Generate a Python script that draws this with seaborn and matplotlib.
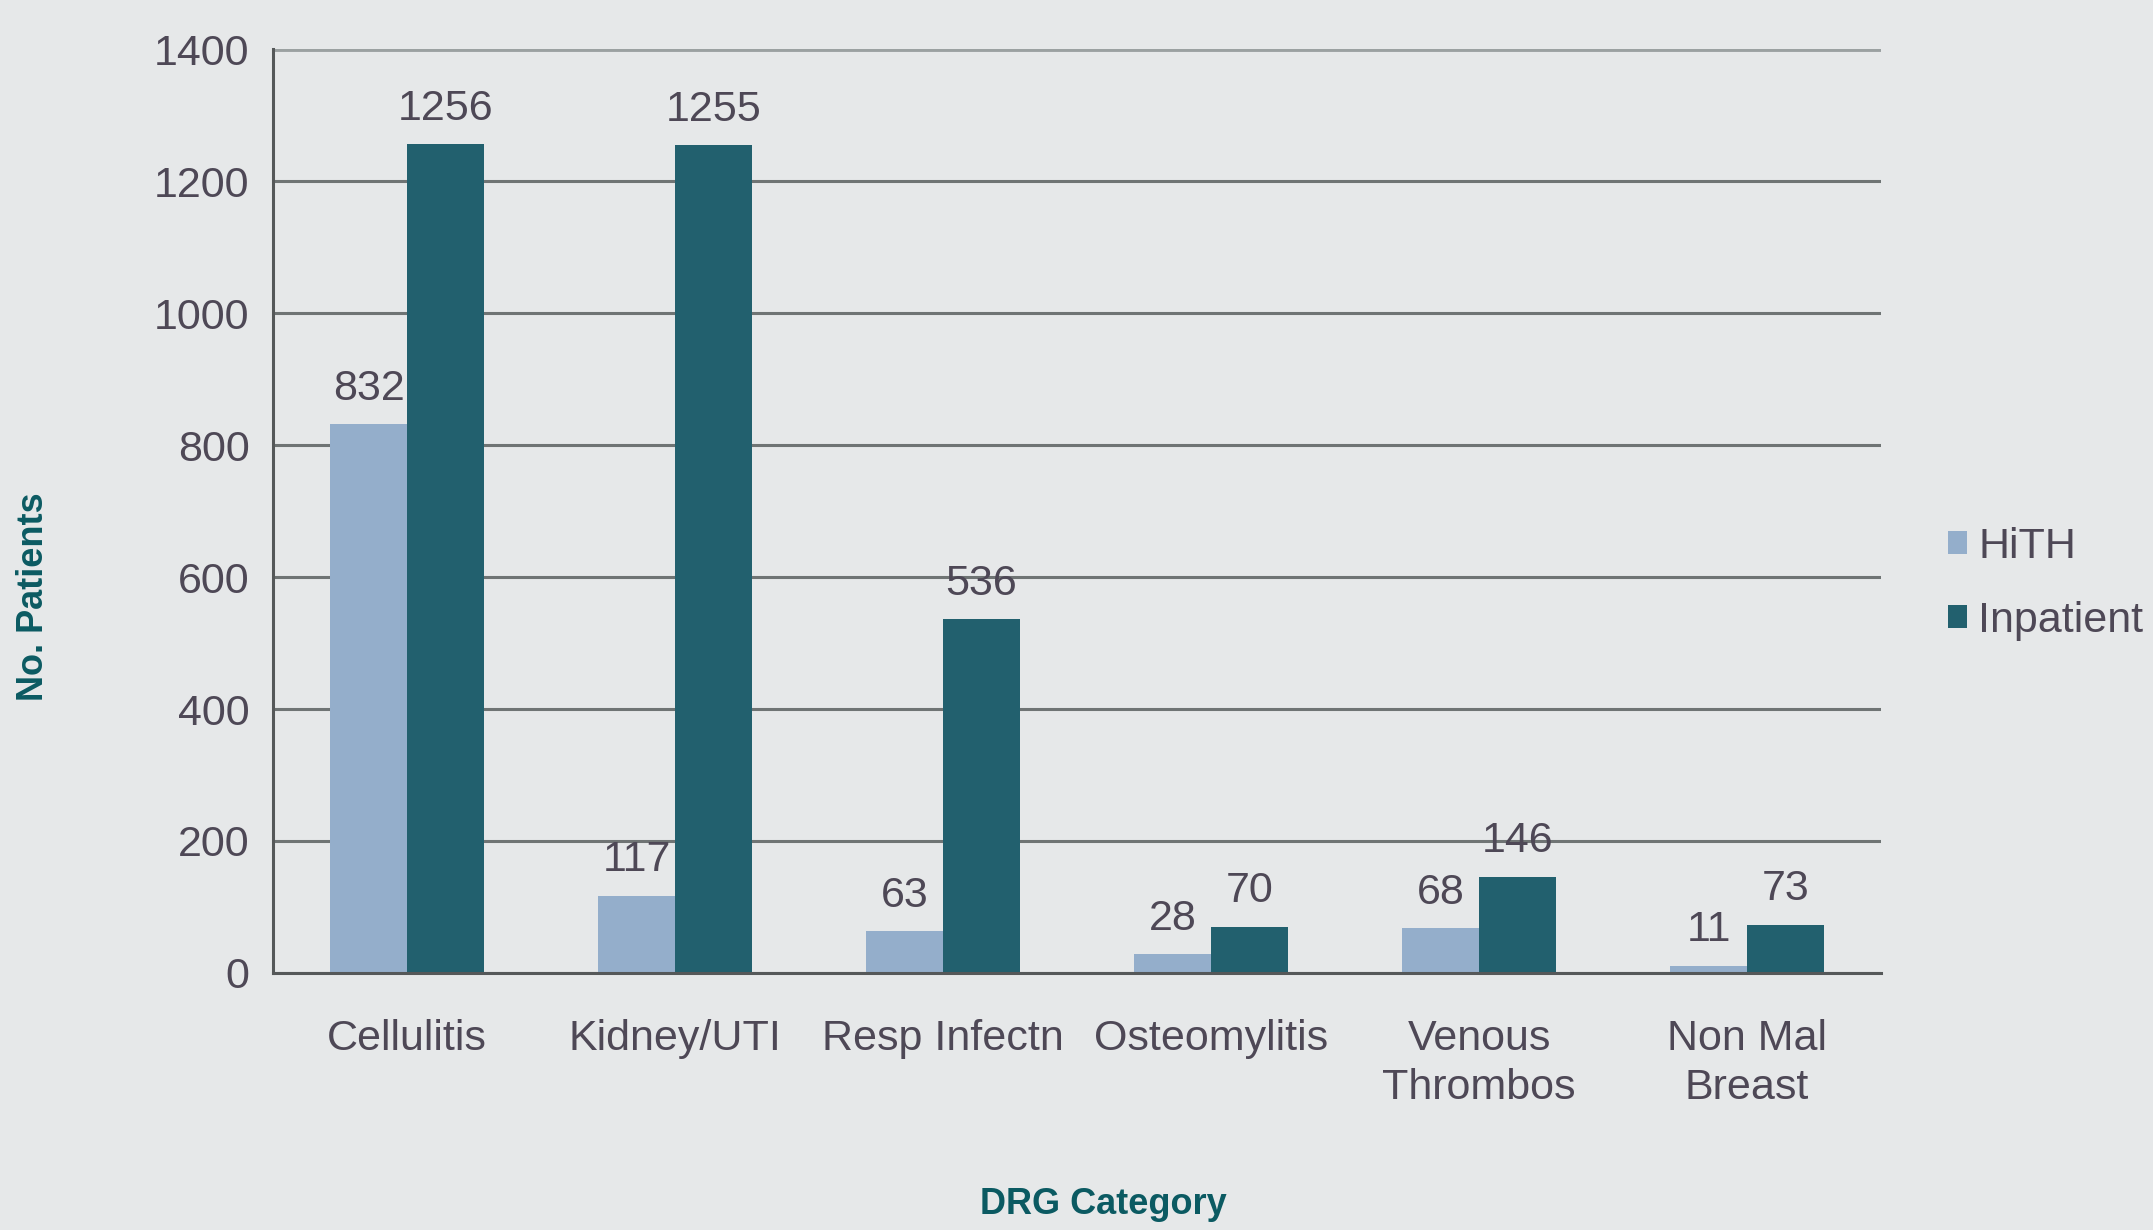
import matplotlib
matplotlib.use("Agg")
import matplotlib.pyplot as plt
from matplotlib.patches import Patch
import numpy as np
import pandas as pd
import seaborn as sns

# Patient counts per DRG category
categories = ["Cellulitis", "Kidney/UTI", "Resp Infectn", "Osteomylitis",
              "Venous\nThrombos", "Non Mal\nBreast"]
hith = [832, 117, 63, 28, 68, 11]
inpatient = [1256, 1255, 536, 70, 146, 73]
series = ["HiTH", "Inpatient"]
yticks = [0, 200, 400, 600, 800, 1000, 1200, 1400]

BG = "#E6E8E9"
TEXT = "#4E4856"
TEAL = "#0B5A62"
GRID = "#6F7474"
colors = {"HiTH": "#94AECB", "Inpatient": "#22606E"}
FS = 31

df = pd.DataFrame({
    "category": categories * 2,
    "patients": hith + inpatient,
    "series": ["HiTH"] * len(categories) + ["Inpatient"] * len(categories),
})

sns.set_theme(style="white")
plt.rcParams["font.family"] = ["Liberation Sans", "DejaVu Sans"]

fig = plt.figure(figsize=(21.53, 12.30), dpi=100, facecolor=BG)
ax = fig.add_axes([0.1268, 0.209, 0.7469, 0.751], facecolor=BG)

sns.barplot(data=df, x="category", y="patients", hue="series",
            order=categories, hue_order=series, palette=colors,
            width=0.574, saturation=1, legend=False, ax=ax, zorder=2,
            linewidth=0)

ax.set_xlim(-0.5, len(categories) - 0.5)
ax.set_ylim(0, 1400)
ax.set_yticks(yticks)
ax.set_yticklabels([str(t) for t in yticks])

# horizontal grid
ax.set_axisbelow(True)
ax.yaxis.grid(True, color=GRID, linewidth=2.2)
gl = ax.yaxis.get_gridlines()
gl[-1].set_color("#9BA1A1")
gl[-1].set_linewidth(3.5)

for side in ("top", "right"):
    ax.spines[side].set_visible(False)
for side in ("left", "bottom"):
    ax.spines[side].set_color("#555859")
    ax.spines[side].set_linewidth(2.2)

ax.tick_params(axis="y", which="major", length=7, width=2, color=GRID,
               labelsize=FS, labelcolor=TEXT, pad=10)
ax.set_xticks(np.arange(len(categories)))
ax.set_xticklabels(categories, linespacing=1.3)
ax.tick_params(axis="x", which="major", length=0, labelsize=FS,
               labelcolor=TEXT, pad=33)
ax.set_xticks(np.arange(-0.5, len(categories), 1), minor=True)
ax.tick_params(axis="x", which="minor", length=10, width=2, color="#555859",
               direction="out")

ax.set_xlabel("")
ax.set_ylabel("")

# value labels above each bar
for cont, vals in zip(ax.containers, [hith, inpatient]):
    texts = ax.bar_label(cont, labels=[str(v) for v in vals], padding=11,
                         fontsize=FS, color=TEXT)
    for t in texts:
        t.set_zorder(1.5)

fig.text(34 / 2153, 1 - 597 / 1230, "No. Patients", rotation=90,
         ha="center", va="center", fontsize=26, color=TEAL,
         fontweight="bold")
fig.text(1103 / 2153, 1 - 1205 / 1230, "DRG Category",
         ha="center", va="center", fontsize=26, color=TEAL,
         fontweight="bold")

handles = [Patch(facecolor=colors[s], edgecolor="none") for s in series]
fig.legend(handles, series, loc="center left",
           bbox_to_anchor=(1948 / 2153, 1 - 584 / 1230),
           frameon=False, fontsize=FS, labelcolor=TEXT,
           handlelength=0.45, handleheight=0.45, handletextpad=0.25,
           labelspacing=0.78, borderaxespad=0, borderpad=0)

fig.savefig("out.png", dpi=100, facecolor=BG)
